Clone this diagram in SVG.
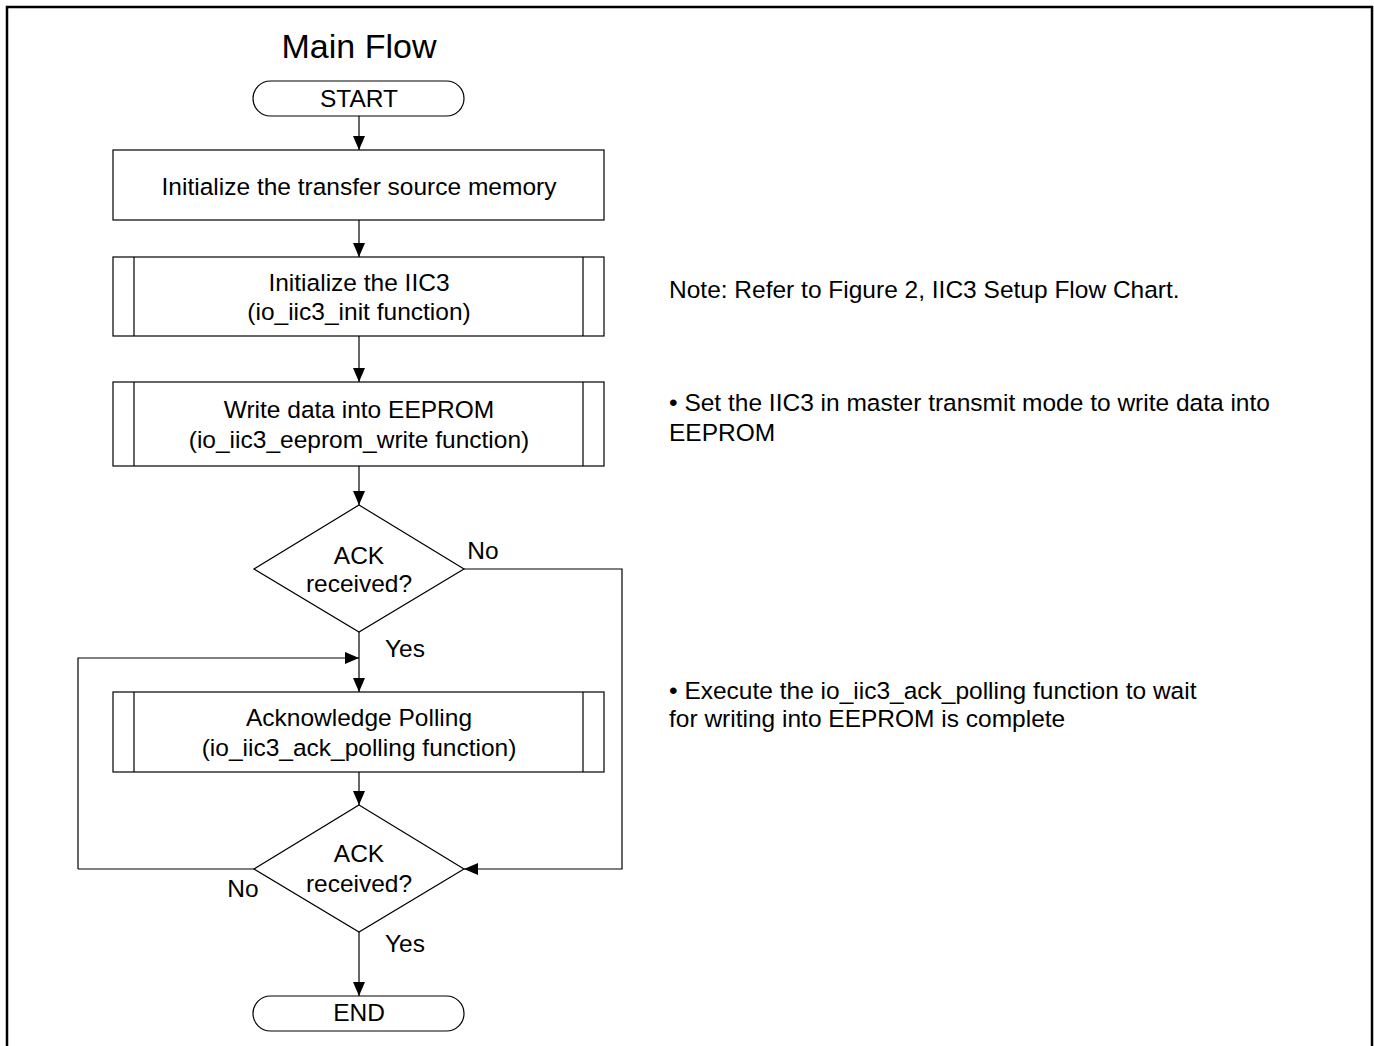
<svg xmlns="http://www.w3.org/2000/svg" width="1374" height="1046" viewBox="0 0 1374 1046">
<defs>
<marker id="ah" markerWidth="14" markerHeight="12" refX="14" refY="6" orient="auto" markerUnits="userSpaceOnUse">
<path d="M0,0 L14,6 L0,12 Z" fill="#000"/>
</marker>
<style>
text{font-family:"Liberation Sans",Arial,sans-serif;font-size:24.5px;fill:#000}
.c{text-anchor:middle}
.s{fill:#fff;stroke:#000;stroke-width:1.2}
.l{fill:none;stroke:#000;stroke-width:1.2}
</style>
</defs>
<rect width="1374" height="1046" fill="#fff"/>
<path d="M7,1046 V7 H1372 V1046" fill="none" stroke="#000" stroke-width="2.5"/>
<text x="359" y="58" class="c" style="font-size:34px">Main Flow</text>

<g id="connectors">
<path class="l" d="M359,116 V150" marker-end="url(#ah)"/>
<path class="l" d="M359,220 V257" marker-end="url(#ah)"/>
<path class="l" d="M359,336 V382" marker-end="url(#ah)"/>
<path class="l" d="M359,466 V505" marker-end="url(#ah)"/>
<path class="l" d="M359,632 V692" marker-end="url(#ah)"/>
<path class="l" d="M78,869 V658 H359" marker-end="url(#ah)"/>
<path class="l" d="M254,869 H78"/>
<path class="l" d="M464,569 H622 V869 H464" marker-end="url(#ah)"/>
<path class="l" d="M359,772 V805" marker-end="url(#ah)"/>
<path class="l" d="M359,932 V996" marker-end="url(#ah)"/>
<text x="483" y="559" class="c">No</text>
<text x="385" y="657">Yes</text>
<text x="243" y="897" class="c">No</text>
<text x="385" y="952">Yes</text>
</g>

<g id="start">
<rect class="s" x="253" y="81" width="211" height="35" rx="17.5"/>
<text x="359" y="107" class="c">START</text>
</g>
<g id="init-memory">
<rect class="s" x="113" y="150" width="491" height="70"/>
<text x="359" y="195" class="c">Initialize the transfer source memory</text>
</g>
<g id="init-iic3">
<rect class="s" x="113" y="257" width="491" height="79"/>
<path class="l" d="M134,257 V336 M583,257 V336"/>
<text x="359" y="291" class="c">Initialize the IIC3</text>
<text x="359" y="320" class="c">(io_iic3_init function)</text>
</g>
<g id="write-eeprom">
<rect class="s" x="113" y="382" width="491" height="84"/>
<path class="l" d="M134,382 V466 M583,382 V466"/>
<text x="359" y="418" class="c">Write data into EEPROM</text>
<text x="359" y="448" class="c">(io_iic3_eeprom_write function)</text>
</g>
<g id="ack1">
<polygon class="s" points="359,505 464,569 359,632 254,569"/>
<text x="359" y="564" class="c">ACK</text>
<text x="359" y="592" class="c">received?</text>
</g>
<g id="ack-polling">
<rect class="s" x="113" y="692" width="491" height="80"/>
<path class="l" d="M134,692 V772 M583,692 V772"/>
<text x="359" y="726" class="c">Acknowledge Polling</text>
<text x="359" y="756" class="c">(io_iic3_ack_polling function)</text>
</g>
<g id="ack2">
<polygon class="s" points="359,805 464,869 359,932 254,869"/>
<text x="359" y="862" class="c">ACK</text>
<text x="359" y="892" class="c">received?</text>
</g>
<g id="end">
<rect class="s" x="253" y="996" width="211" height="35" rx="17.5"/>
<text x="359" y="1021" class="c">END</text>
</g>

<g id="notes">
<text x="669" y="298">Note: Refer to Figure 2, IIC3 Setup Flow Chart.</text>
<text x="669" y="411">• Set the IIC3 in master transmit mode to write data into</text>
<text x="669" y="441">EEPROM</text>
<text x="669" y="699">• Execute the io_iic3_ack_polling function to wait</text>
<text x="669" y="727">for writing into EEPROM is complete</text>
</g>
</svg>
